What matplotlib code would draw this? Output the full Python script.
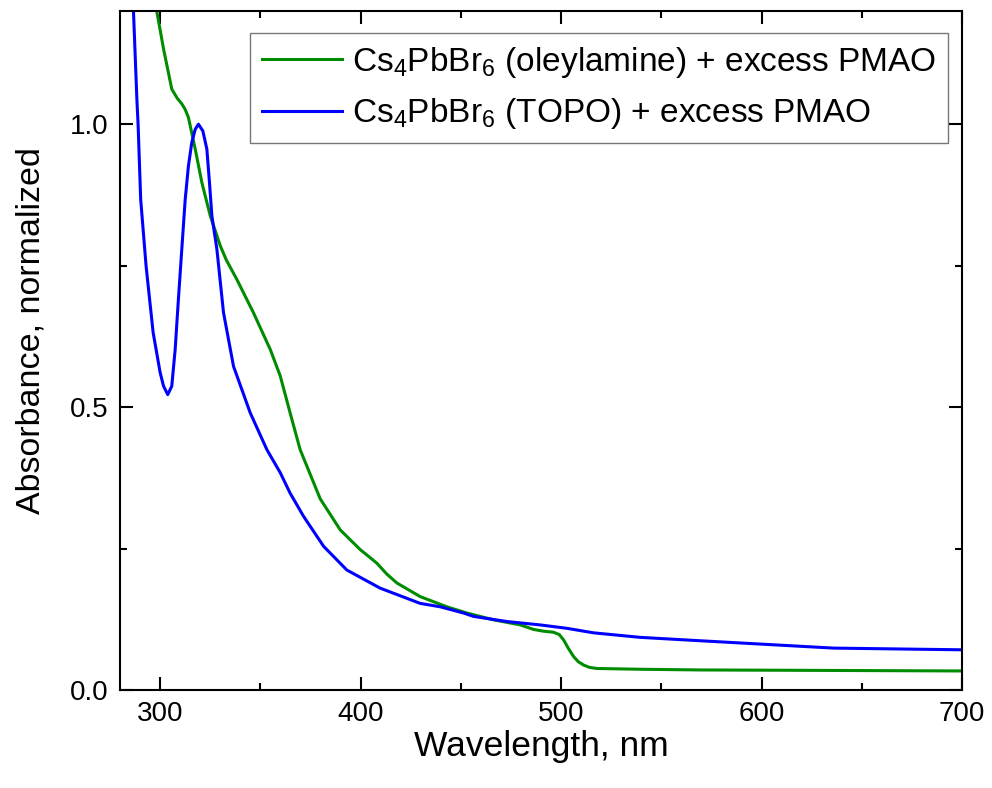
import numpy as np
import matplotlib.pyplot as plt
from matplotlib.ticker import MultipleLocator

plt.rcParams['font.family'] = ['Liberation Sans', 'DejaVu Sans']
plt.rcParams['mathtext.fontset'] = 'custom'
plt.rcParams['mathtext.rm'] = 'Liberation Sans'
plt.rcParams['mathtext.it'] = 'Liberation Sans'

# Cs4PbBr6 (oleylamine) + excess PMAO
wl_ole = [298.3, 301.7, 305.8, 308.5, 310.8, 312.5, 314.1, 317.5, 320.8, 325.0,
          330.0, 333.0, 338.2, 346.5, 354.9, 359.9, 364.8, 369.8, 379.8, 389.8,
          399.8, 404.0, 408.1, 413.0, 418.1, 429.7, 443.0, 453.0, 466.2, 479.6,
          486.2, 491.0, 496.2, 499.0, 501.2, 503.5, 506.2, 508.5, 511.2, 514.0,
          517.8, 539.4, 569.3, 635.8, 700.0]
abs_ole = [1.20, 1.133, 1.062, 1.046, 1.036, 1.026, 1.012, 0.956, 0.897, 0.838,
           0.785, 0.760, 0.726, 0.667, 0.602, 0.555, 0.490, 0.425, 0.338, 0.283,
           0.248, 0.236, 0.224, 0.205, 0.189, 0.165, 0.147, 0.136, 0.124, 0.115,
           0.107, 0.104, 0.102, 0.098, 0.0885, 0.074, 0.059, 0.050, 0.044, 0.040,
           0.038, 0.0366, 0.0354, 0.0345, 0.0336]

# Cs4PbBr6 (TOPO) + excess PMAO
wl_topo = [286.7, 288.4, 289.0, 290.3, 293.0, 296.5, 300.0, 301.7, 303.8, 305.8,
           307.5, 309.1, 310.8, 312.5, 314.1, 315.8, 317.5, 319.1, 321.3, 323.3,
           324.6, 325.8, 328.3, 331.6, 336.6, 344.9, 353.2, 359.9, 364.8, 371.5,
           381.5, 393.1, 409.7, 429.7, 439.7, 451.3, 456.3, 472.9, 489.5, 502.8,
           516.1, 539.4, 569.3, 635.8, 700.0]
abs_topo = [1.20, 1.044, 1.00, 0.867, 0.749, 0.632, 0.561, 0.537, 0.522, 0.537,
            0.602, 0.690, 0.779, 0.867, 0.926, 0.968, 0.991, 1.00, 0.988, 0.956,
            0.897, 0.838, 0.779, 0.667, 0.572, 0.490, 0.425, 0.384, 0.348, 0.307,
            0.254, 0.212, 0.180, 0.153, 0.147, 0.136, 0.130, 0.121, 0.115, 0.109,
            0.101, 0.093, 0.087, 0.074, 0.071]

fig = plt.figure(figsize=(9.92, 7.88), dpi=100)
ax = fig.add_axes([0.121, 0.1244, 0.849, 0.8616])

ax.plot(wl_ole, abs_ole, color='#008c00', lw=2.2,
        label=r'Cs$_4$PbBr$_6$ (oleylamine) + excess PMAO')
ax.plot(wl_topo, abs_topo, color='#0000ff', lw=2.2,
        label=r'Cs$_4$PbBr$_6$ (TOPO) + excess PMAO')

ax.set_xlim(280, 700)
ax.set_ylim(0, 1.2)
ax.xaxis.set_major_locator(MultipleLocator(100))
ax.xaxis.set_minor_locator(MultipleLocator(50))
ax.yaxis.set_major_locator(MultipleLocator(0.5))
ax.yaxis.set_minor_locator(MultipleLocator(0.25))
ax.tick_params(which='both', direction='in', top=True, right=True, width=1.5)
ax.tick_params(which='major', length=9.5, labelsize=20, pad=8)
ax.tick_params(which='minor', length=5)
for s in ax.spines.values():
    s.set_linewidth(1.5)

ax.set_xlabel('Wavelength, nm', fontsize=25.5, labelpad=2)
ax.set_ylabel('Absorbance, normalized', fontsize=24.5)
ax.yaxis.set_label_coords(-0.087, 0.53)

leg = ax.legend(loc='upper right', bbox_to_anchor=(948 / 992, (788 - 33) / 788),
                bbox_transform=fig.transFigure, borderaxespad=0,
                fontsize=24, fancybox=False, edgecolor='#555555',
                handlelength=2.4, borderpad=0.35, labelspacing=0.5,
                handletextpad=0.3)
leg.get_frame().set_linewidth(1.0)

fig.savefig('out.png', dpi=100)
